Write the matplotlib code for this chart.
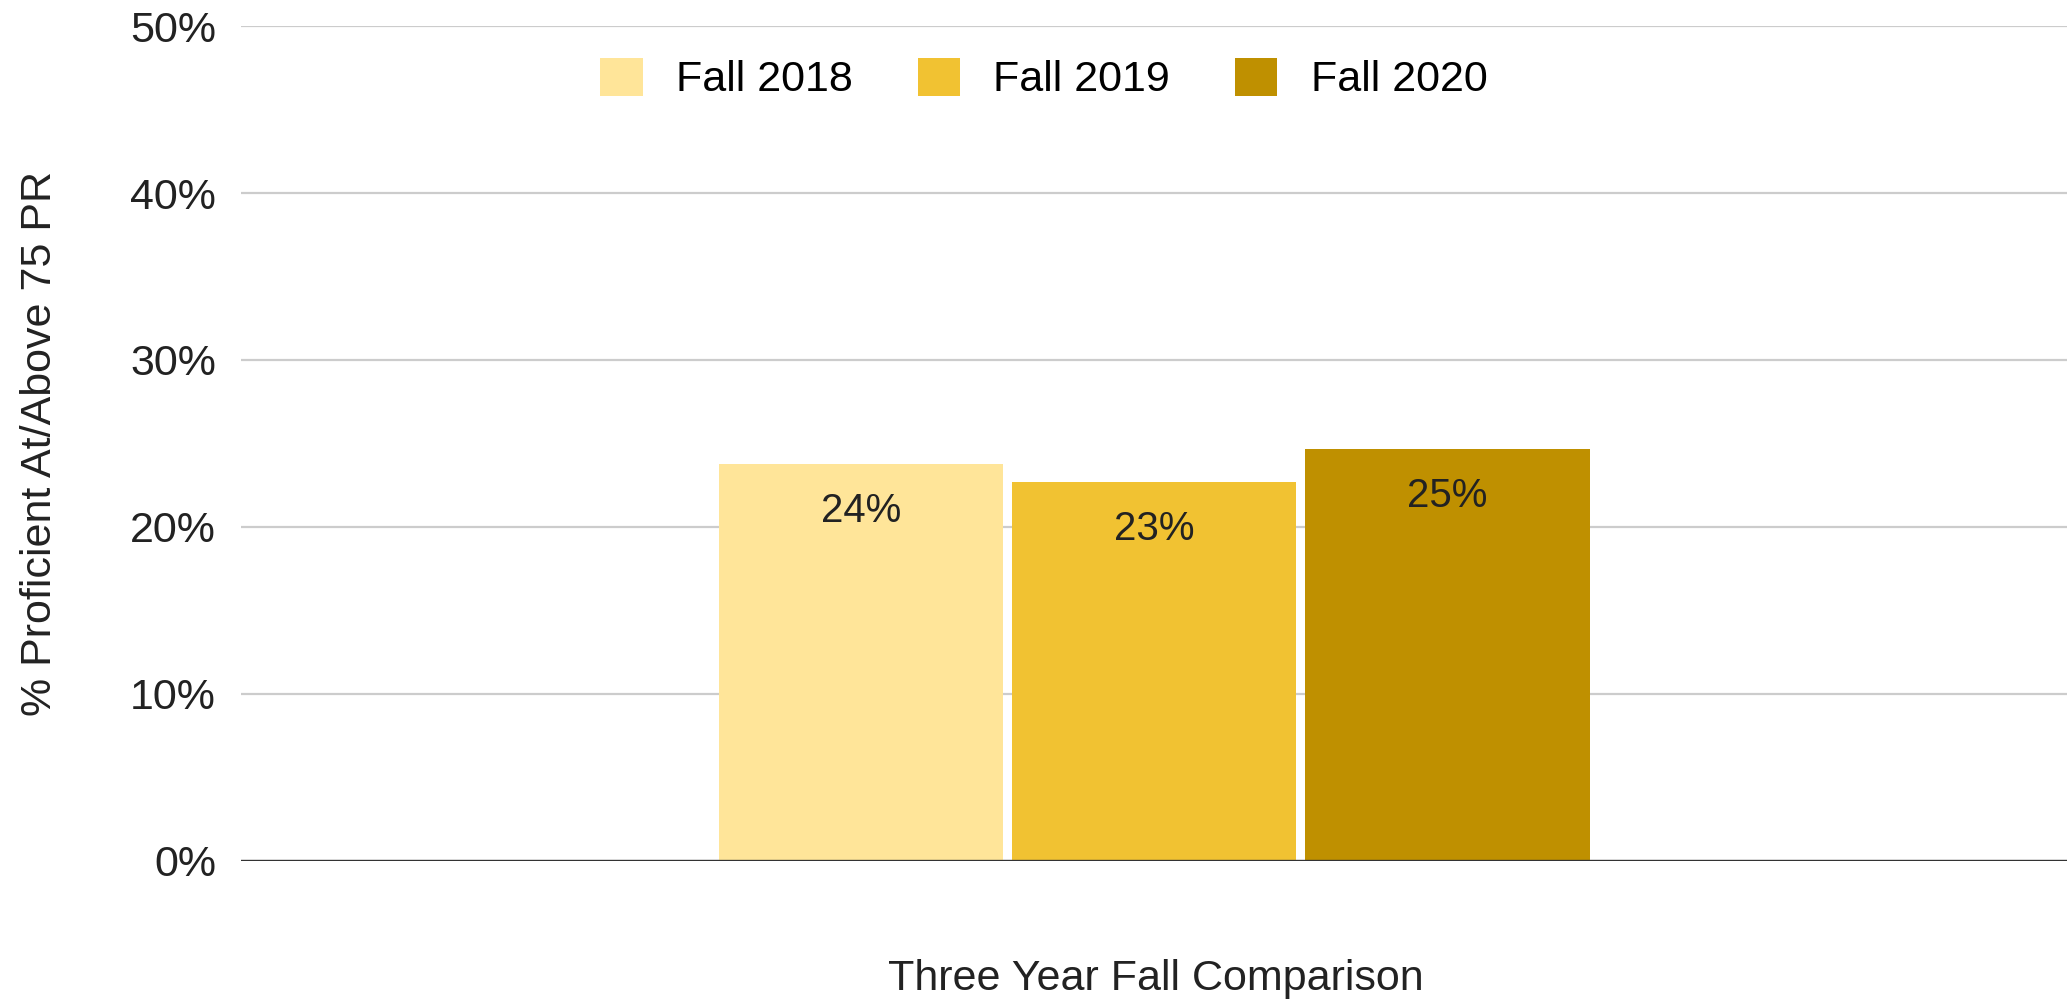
import matplotlib.pyplot as plt
import numpy as np

# data
series = ['Fall 2018', 'Fall 2019', 'Fall 2020']
values = [23.8, 22.7, 24.7]
labels = ['24%', '23%', '25%']
colors = ['#FFE599', '#F1C232', '#BF9000']
yticks = [0, 10, 20, 30, 40, 50]

plt.rcParams['font.family'] = ['Liberation Sans', 'DejaVu Sans']

fig = plt.figure(figsize=(20.67, 10.01), dpi=100)
ax = fig.add_axes([0.1166, 0.1399, 0.8834, 0.8341])

width = 0.156
offsets = np.array([-1, 0, 1]) * 0.1605
for i in range(len(series)):
    ax.bar(offsets[i], values[i], width=width, color=colors[i], label=series[i], zorder=3)
    ax.annotate(labels[i], (offsets[i], values[i]), xytext=(0, -34), textcoords='offset points',
                ha='center', va='center', fontsize=29, color='#222222', zorder=4)

ax.set_xlim(-0.5, 0.5)
ax.set_ylim(0, 50)
ax.set_yticks(yticks)
ax.set_yticklabels([f'{t}%' for t in yticks], fontsize=31, color='#222222')
ax.set_xticks([])
ax.tick_params(axis='y', length=0, pad=18)
ax.grid(axis='y', color='#cccccc', linewidth=1.6, zorder=0)
ax.axhline(0, color='#333333', linewidth=2.4, zorder=5)
for s in ax.spines.values():
    s.set_visible(False)

ax.set_ylabel('% Proficient At/Above 75 PR', fontsize=31, color='#222222')
ax.yaxis.set_label_coords(-0.099, 0.5)
fig.text(0.5593, 0.022, 'Three Year Fall Comparison', ha='center', va='center', fontsize=31, color='#222222')

fig.legend(loc='center', bbox_to_anchor=(0.505, 0.921), ncol=3, frameon=False, fontsize=31,
           handlelength=0.98, handleheight=0.98, columnspacing=1.5, handletextpad=0.78)

fig.savefig('out.png', dpi=100, facecolor='white')
